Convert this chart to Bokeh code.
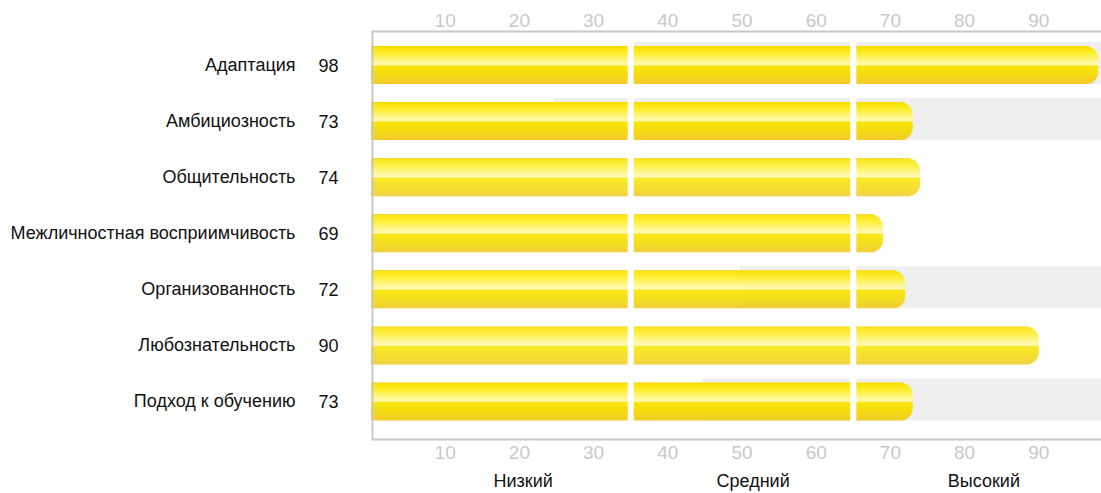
import math
from bokeh.plotting import figure
from bokeh.models import Range1d, LinearAxis, FixedTicker, ColumnDataSource
from bokeh.embed import file_html
from bokeh.resources import INLINE
from bokeh.core.properties import value

# ---------------- data ----------------
traits = ["Адаптация", "Амбициозность", "Общительность",
          "Межличностная восприимчивость", "Организованность",
          "Любознательность", "Подход к обучению"]
scores = [98, 73, 74, 69, 72, 90, 73]
norm_start = [34.7, 24.6, None, None, 49.7, None, 44.7]
norm_end = [100, 100, None, None, 100, None, 100]
level_bounds = [35, 65]
level_names = ["Низкий", "Средний", "Высокий"]
level_centers = [20.5, 51.5, 82.6]
tick_values = [10, 20, 30, 40, 50, 60, 70, 80, 90]

# ---------------- layout (pixels) ----------------
W, H = 1101, 493
X0_PX, PX_PER_UNIT = 370.5, 7.42
T, B = 29, 441
ROW0_PX, ROW_STEP = 64.5, 56.08
BAR_H = 38
CAP_R = 13
LABEL_FONT = "Liberation Sans"
LABEL_SIZE = "18px"

x_start = -X0_PX / PX_PER_UNIT
x_end = (W - X0_PX) / PX_PER_UNIT
y_top = -(ROW0_PX - T) / ROW_STEP
y_bot = y_top + (B - T) / ROW_STEP


def ypx(px):
    return y_top + (px - T) / ROW_STEP


def dxp(px):
    return px / PX_PER_UNIT


def dyp(px):
    return px / ROW_STEP


GREY = "#efefef"
FRAME = "#c8c8c8"

stops = [(0.00, (241, 209, 0)), (0.04, (249, 226, 0)), (0.20, (254, 238, 48)),
         (0.42, (255, 247, 154)), (0.50, (255, 251, 181)), (0.52, (248, 230, 12)),
         (0.70, (245, 223, 14)), (1.00, (240, 203, 42))]


def grad(t):
    for (t0, c0), (t1, c1) in zip(stops[:-1], stops[1:]):
        if t <= t1:
            f = 0 if t1 == t0 else (t - t0) / (t1 - t0)
            c = [round(a + (b - a) * f) for a, b in zip(c0, c1)]
            return "#%02x%02x%02x" % tuple(c)
    return "#%02x%02x%02x" % stops[-1][1]


p = figure(frame_width=W, frame_height=B - T, x_range=Range1d(x_start, x_end),
           y_range=Range1d(y_bot, y_top), x_axis_location="above",
           y_axis_location=None, toolbar_location=None, output_backend="svg",
           min_border_left=0, min_border_right=0, min_border_top=T,
           min_border_bottom=0)
p.outline_line_color = None
p.grid.visible = False
p.background_fill_color = "white"
p.border_fill_color = "white"


def style_num_axis(ax, standoff):
    ax.ticker = FixedTicker(ticks=tick_values)
    ax.axis_line_color = None
    ax.major_tick_line_color = None
    ax.minor_tick_line_color = None
    ax.major_label_text_color = FRAME
    ax.major_label_text_font = "Liberation Sans"
    ax.major_label_text_font_size = "19px"
    ax.major_label_standoff = standoff


style_num_axis(p.xaxis[0], -3)
bax = LinearAxis()
style_num_axis(bax, -2)
p.add_layout(bax, "below")

lax = LinearAxis(ticker=FixedTicker(ticks=level_centers),
                 major_label_overrides={c: n for c, n in zip(level_centers, level_names)})
lax.axis_line_color = None
lax.major_tick_line_color = None
lax.minor_tick_line_color = None
lax.major_label_text_color = "#111111"
lax.major_label_text_font = LABEL_FONT
lax.major_label_text_font_size = LABEL_SIZE
lax.major_label_standoff = 3
p.add_layout(lax, "below")

# grey norm bands
gl, gr, gt, gb = [], [], [], []
for i, (s, e) in enumerate(zip(norm_start, norm_end)):
    if s is None:
        continue
    gl.append(s)
    gr.append(e)
    gt.append(i - dyp(BAR_H / 2 + 4))
    gb.append(i + dyp(BAR_H / 2))
p.quad(left=gl, right=gr, top=gt, bottom=gb, fill_color=GREY, line_color=None)

# yellow gradient bars with rounded right cap
L, R, TT, BB, C = [], [], [], [], []
for i, sc in enumerate(scores):
    for j in range(BAR_H):
        t = j + 0.5
        d = min(t, BAR_H - t)
        inset = CAP_R - math.sqrt(max(CAP_R ** 2 - (CAP_R - d) ** 2, 0)) if d < CAP_R else 0
        L.append(0)
        R.append(sc - dxp(inset))
        TT.append(i + dyp(-BAR_H / 2 + j))
        BB.append(i + dyp(-BAR_H / 2 + j + 1.4 if j < BAR_H - 1 else -BAR_H / 2 + j + 1))
        C.append(grad(t / BAR_H))
p.quad(source=ColumnDataSource(dict(left=L, right=R, top=TT, bottom=BB, color=C)),
       left="left", right="right", top="top", bottom="bottom",
       fill_color="color", line_color=None)

# white level separators
p.quad(left=[b - dxp(3) for b in level_bounds], right=[b + dxp(3) for b in level_bounds],
       top=[ypx(33)] * len(level_bounds), bottom=[ypx(437)] * len(level_bounds),
       fill_color="white", line_color=None)

# frame lines
lx = dxp(372 - X0_PX)
p.segment(x0=[lx, lx, lx], y0=[ypx(30), ypx(31), ypx(439)],
          x1=[lx, x_end + 1, x_end + 1], y1=[ypx(440), ypx(31), ypx(439)],
          line_color=FRAME, line_width=2)

rows = list(range(len(traits)))
p.text(x=[0] * len(rows), y=rows, text=traits, x_offset=-75.5,
       text_align="right", text_baseline="middle",
       text_font=value(LABEL_FONT), text_font_size=LABEL_SIZE, text_color="#111111")
p.text(x=[0] * len(rows), y=rows, text=[str(s) for s in scores], x_offset=-42.5,
       text_align="center", text_baseline="middle",
       text_font=value(LABEL_FONT), text_font_size=LABEL_SIZE, text_color="#111111")

open("out.html", "w").write(file_html(p, INLINE))
